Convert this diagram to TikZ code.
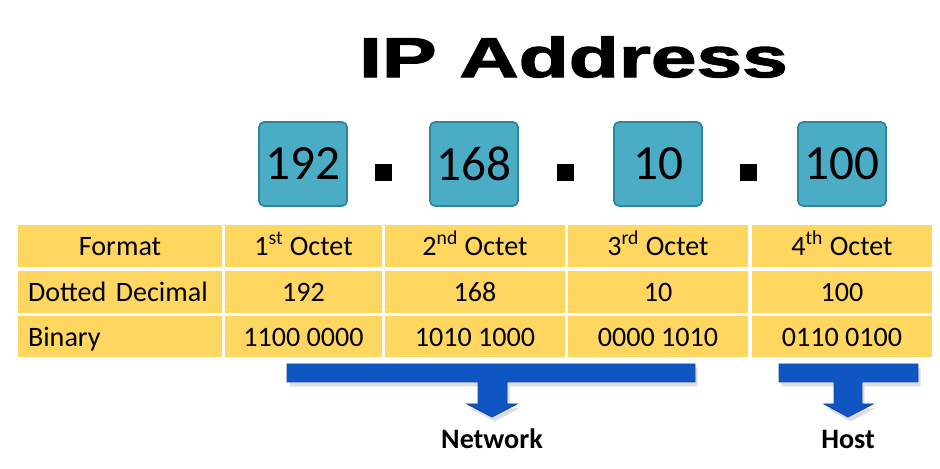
\documentclass[tikz,border=0pt]{standalone}
\usepackage{fontspec}
\setmainfont{Carlito}
\newfontfamily\titlefont{Liberation Sans}[BoldFeatures={FakeBold=1.8}]
\definecolor{oktet}{HTML}{4BACC6}
\definecolor{oktetbrzeg}{HTML}{31849B}
\definecolor{komorka}{HTML}{FFD760}
\definecolor{strzalka}{HTML}{1056C2}
\tikzset{
  octetbox/.style={rectangle, rounded corners=0.1cm, draw=oktetbrzeg, line width=1pt, fill=oktet,
    minimum width=1.76cm, minimum height=1.68cm, inner sep=0pt, font=\fontsize{28}{32}\selectfont},
  dotbox/.style={rectangle, fill=black, minimum size=0.34cm, inner sep=0pt},
  cell/.style={rectangle, fill=komorka, minimum height=0.84cm, inner xsep=0.2cm, inner ysep=0pt,
    text height=11.2pt, text depth=0pt, font=\fontsize{16}{19}\selectfont},
  bar/.style={fill=strzalka, draw=strzalka!85!black, line width=0.5pt},
  barshadow/.style={fill=gray!45, opacity=0.6, xshift=1.5pt, yshift=-2.5pt},
  label/.style={font=\bfseries\fontsize{16}{19}\selectfont, anchor=base}
}
\begin{document}
\begin{tikzpicture}[x=0.02cm, y=-0.02cm]
    \useasboundingbox (0,0) rectangle (940,469);

    % Tytul
    \node[font=\titlefont\bfseries\fontsize{32}{38}\selectfont, xscale=1.46, inner sep=0pt] (title) at (573.5,57) {IP Address};

    % Oktety adresu
    \node[octetbox] (o1) at (303,164) {192};
    \node[octetbox] (o2) at (474,164) {168};
    \node[octetbox] (o3) at (658,164) {10};
    \node[octetbox] (o4) at (842,164) {100};

    \node[dotbox] (k1) at (383.5,172.5) {};
    \node[dotbox] (k2) at (565.5,172.5) {};
    \node[dotbox] (k3) at (748.5,172.5) {};

    % Tabela
    \node[cell, minimum width=4.08cm] (f0) at (120,246) {Format};
    \node[cell, minimum width=3.14cm] (f1) at (303.5,246) {1\textsuperscript{st} Octet};
    \node[cell, minimum width=3.6cm] (f2) at (475,246) {2\textsuperscript{nd} Octet};
    \node[cell, minimum width=3.6cm] (f3) at (658,246) {3\textsuperscript{rd} Octet};
    \node[cell, minimum width=3.6cm] (f4) at (842,246) {4\textsuperscript{th} Octet};

    \node[cell, text width=3.68cm, align=left] (d0) at (120,292) {Dotted Decimal};
    \node[cell, minimum width=3.14cm] (d1) at (303.5,292) {192};
    \node[cell, minimum width=3.6cm] (d2) at (475,292) {168};
    \node[cell, minimum width=3.6cm] (d3) at (658,292) {10};
    \node[cell, minimum width=3.6cm] (d4) at (842,292) {100};

    \node[cell, text width=3.68cm, align=left] (b0) at (120,336.5) {Binary};
    \node[cell, minimum width=3.14cm] (b1) at (303.5,336.5) {1100 0000};
    \node[cell, minimum width=3.6cm] (b2) at (475,336.5) {1010 1000};
    \node[cell, minimum width=3.6cm] (b3) at (658,336.5) {0000 1010};
    \node[cell, minimum width=3.6cm] (b4) at (842,336.5) {0110 0100};

    % Czesc sieci i hosta
    \node[label] (net) at (492,449) {Network};
    \node[label] (host) at (848,449) {Host};

    \fill[barshadow] (287,364) -- (695,364) -- (695,382) -- (507,382) -- (507,404) -- (517,404)
        -- (492,417) -- (467,404) -- (478,404) -- (478,382) -- (287,382) -- cycle;
    \filldraw[bar] (287,364) -- (695,364) -- (695,382) -- (507,382) -- (507,404) -- (517,404)
        -- (492,417) -- (467,404) -- (478,404) -- (478,382) -- (287,382) -- cycle;

    \fill[barshadow] (779,364) -- (918,364) -- (918,382) -- (862,382) -- (862,404) -- (873,404)
        -- (848,417) -- (824,404) -- (834,404) -- (834,382) -- (779,382) -- cycle;
    \filldraw[bar] (779,364) -- (918,364) -- (918,382) -- (862,382) -- (862,404) -- (873,404)
        -- (848,417) -- (824,404) -- (834,404) -- (834,382) -- (779,382) -- cycle;
\end{tikzpicture}
\end{document}
